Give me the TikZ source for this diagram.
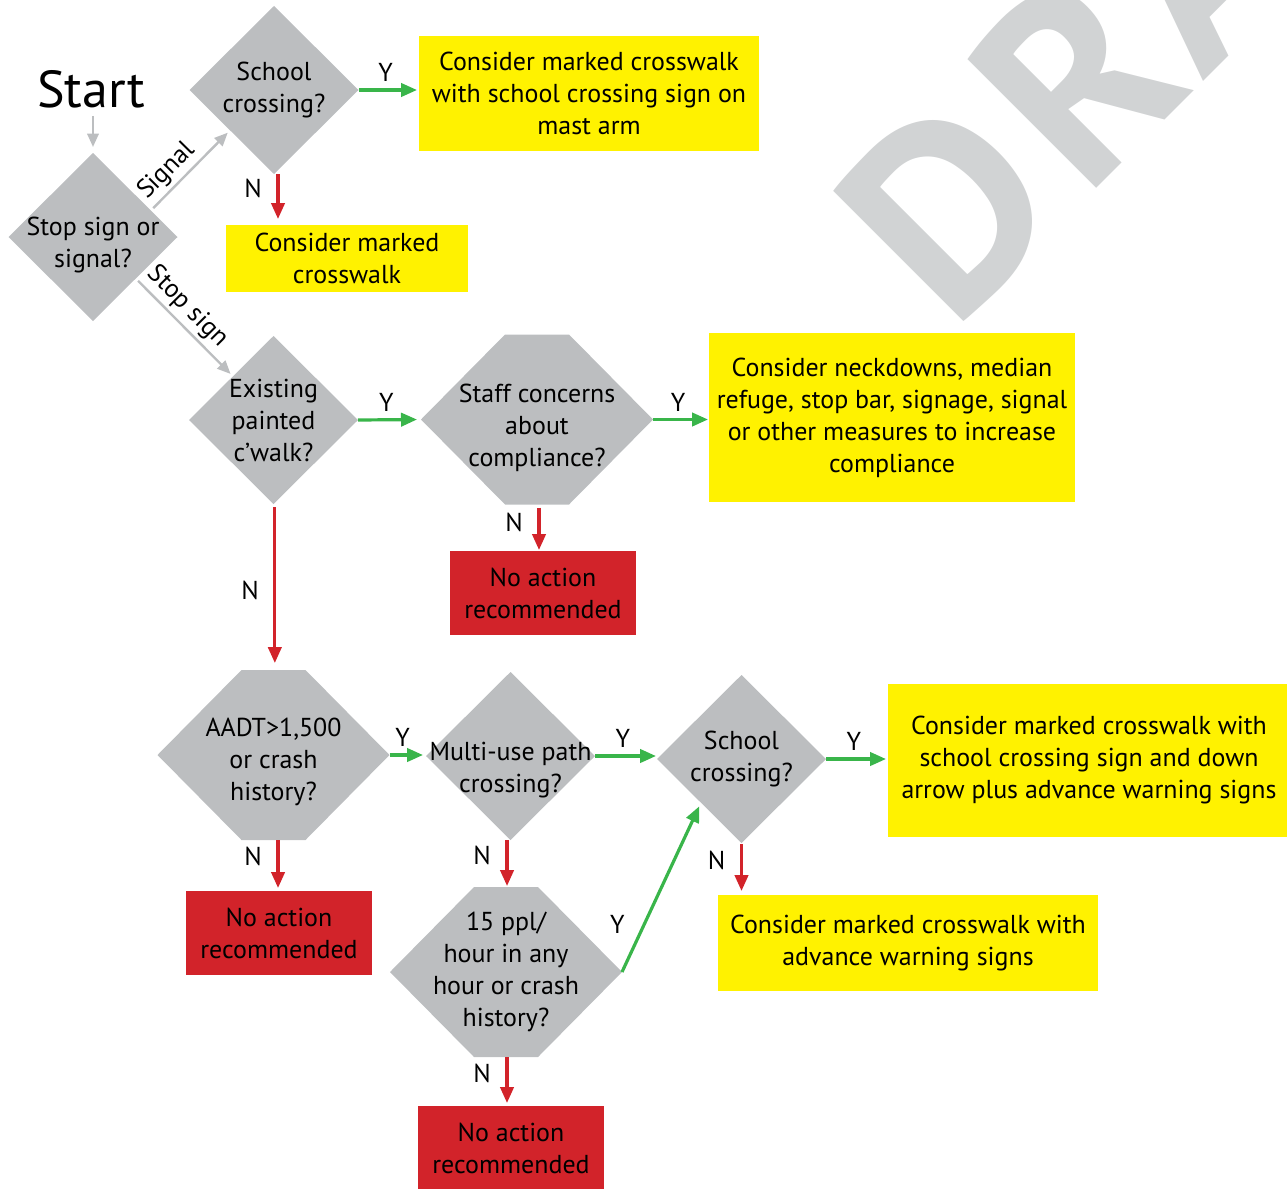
\documentclass[tikz,border=0pt]{standalone}
\usepackage{fontspec}
\setmainfont{PT Sans}
\usetikzlibrary{arrows.meta,calc,backgrounds}
\definecolor{shapegray}{HTML}{BCBEC0}
\definecolor{boxyellow}{HTML}{FFF200}
\definecolor{boxred}{HTML}{D2232A}
\definecolor{arrgreen}{HTML}{39B54A}
\definecolor{arrred}{HTML}{D2232A}
\definecolor{arrgray}{HTML}{BCBEC0}
\definecolor{wmgray}{HTML}{D1D3D4}
\newcommand{\fillhexa}[1]{\fill[shapegray] ([xshift=63pt]#1.north west) -- ([xshift=-63pt]#1.north east) -- (#1.east) -- ([xshift=-63pt]#1.south east) -- ([xshift=63pt]#1.south west) -- (#1.west) -- cycle;}
\newcommand{\filldia}[1]{\fill[shapegray] (#1.north) -- (#1.east) -- (#1.south) -- (#1.west) -- cycle;}
\begin{document}
\begin{tikzpicture}[x=0.75pt, y=-0.75pt,
  txt/.style={font=\fontsize{19.45}{24}\selectfont, align=center, text=black},
  dia/.style={txt, rectangle, inner sep=0pt, outer sep=0pt, minimum width=126.75pt, minimum height=126pt},
  hexa/.style={txt, rectangle, inner sep=0pt, outer sep=0pt, minimum width=174pt, minimum height=127.5pt},
  ybox/.style={txt, rectangle, fill=boxyellow, inner sep=0pt, outer sep=0pt},
  rbox/.style={txt, rectangle, fill=boxred, inner sep=0pt, outer sep=0pt, minimum width=139.5pt, minimum height=63pt},
  conn/.style={line width=2.4pt, -{Triangle[length=12pt,width=10pt]}},
  yesarr/.style={conn, draw=arrgreen},
  noarr/.style={conn, draw=arrred},
  gconn/.style={line width=1.8pt, draw=arrgray, -{Triangle[length=10pt,width=8.5pt]}},
  ylab/.style={txt, inner sep=0pt, above=4.9pt},
  nlab/.style={txt, inner sep=0pt, left=10.9pt},
]
\useasboundingbox (0,0) rectangle (1287,1188);

\node[txt, font=\fontsize{39}{44}\selectfont, inner sep=0pt, anchor=base] (start) at (91,108) {Start};
\node[dia] (stop) at (93,237) {};
\node[txt] (stoptext) at ([yshift=-6pt]stop.center) {Stop sign or\\signal?};
\node[dia] (sch1) at (274,90) {School\\crossing?};
\node[ybox, minimum width=255pt, minimum height=86.25pt] (b1) at (589,93.5) {Consider marked crosswalk\\with school crossing sign on\\mast arm};
\node[ybox, minimum width=181.5pt, minimum height=50.25pt] (b2) at (347,258.5) {Consider marked\\crosswalk};
\node[dia] (exist) at (273.5,420) {Existing\\painted\\c’walk?};
\node[hexa] (staff) at (537,419.5) {};
\node[txt] (stafftext) at ([yshift=-6pt]staff.center) {Staff concerns\\about\\compliance?};
\node[ybox, minimum width=274.5pt, minimum height=126.75pt] (b3) at (892,417.5) {Consider neckdowns, median\\refuge, stop bar, signage, signal\\or other measures to increase\\compliance};
\node[rbox] (r1) at (543,593) {No action\\recommended};
\node[hexa] (aadt) at (273.5,755) {};
\node[txt] (aadttext) at ([yshift=-5.25pt]aadt.center) {AADT>1,500\\or crash\\history?};
\node[dia] (multi) at (510.5,756) {};
\node[txt] (multitext) at ([yshift=-10.5pt]multi.center) {Multi-use path\\crossing?};
\node[dia] (sch2) at (741.5,759) {School\\crossing?};
\node[ybox, minimum width=301.5pt, minimum height=114.75pt] (b4) at (1089,760.5) {Consider marked crosswalk with\\school crossing sign and down\\arrow plus advance warning signs};
\node[rbox] (r2) at (279,933) {No action\\recommended};
\node[ybox, minimum width=285pt, minimum height=72pt] (b5) at (908,943) {Consider marked crosswalk with\\advance warning signs};
\node[hexa] (ppl) at (506,972) {15 ppl/\\hour in any\\hour or crash\\history?};
\node[rbox] (r3) at (511,1148) {No action\\recommended};

\begin{scope}[on background layer]
  \node[font=\fontsize{197}{200}\selectfont\bfseries\addfontfeature{LetterSpace=7}, text=wmgray, rotate=45, anchor=base west, inner sep=0pt] (wm) at (952,333) {DRAFT};
  \filldia{stop}
  \filldia{sch1}
  \filldia{exist}
  \filldia{multi}
  \filldia{sch2}
  \fillhexa{staff}
  \fillhexa{aadt}
  \fillhexa{ppl}
\end{scope}

\draw[gconn, shorten <=5.25pt, shorten >=4.5pt] (start.south -| stop.north) -- (stop.north);
\draw[gconn, shorten <=2.5pt, shorten >=2.5pt] ($(stop.north)!0.685!(stop.east)$) -- node[txt, pos=0.35, sloped, above, inner sep=2.6pt]{Signal} ($(sch1.west)!0.48!(sch1.south)$);
\draw[gconn, shorten <=2.5pt, shorten >=2.5pt] ($(stop.east)!0.494!(stop.south)$) -- node[txt, pos=0.41, sloped, above, inner sep=2.6pt]{Stop sign} ($(exist.west)!0.52!(exist.north)$);

\draw[yesarr, shorten >=1.5pt] (sch1.east) -- node[ylab, pos=0.45]{Y} (b1.west |- sch1.east);
\draw[noarr, shorten >=4.5pt] ([xshift=3pt]sch1.south) -- node[nlab, pos=0.29]{N} ([xshift=3pt]sch1.south |- b2.north);
\draw[yesarr, shorten >=3pt] (exist.east) -- node[ylab, pos=0.45]{Y} (staff.west);
\draw[yesarr, shorten >=0.75pt] (staff.east) -- node[ylab, pos=0.45]{Y} (b3.west |- staff.east);
\draw[noarr, shorten <=2.25pt, shorten >=0.75pt] ([xshift=1.5pt]staff.south) -- node[nlab, pos=0.38]{N} ([xshift=1.5pt]staff.south |- r1.north);
\draw[noarr, shorten <=2.25pt, shorten >=5.25pt] ([xshift=1pt]exist.south) -- node[nlab, pos=0.52]{N} ([xshift=1pt]exist.south |- aadt.north);
\draw[yesarr, shorten >=2.25pt] (aadt.east) -- node[ylab, pos=0.36]{Y} (multi.west |- aadt.east);
\draw[yesarr, shorten >=0.75pt] (multi.east) -- node[ylab, pos=0.45]{Y} (sch2.west |- multi.east);
\draw[yesarr, shorten >=1.5pt] (sch2.east) -- node[ylab, pos=0.45]{Y} (b4.west |- sch2.east);
\draw[noarr, shorten <=0.75pt, shorten >=3pt] (sch2.south) -- node[nlab, pos=0.34]{N} (sch2.south |- b5.north);
\draw[noarr, shorten >=2.25pt] ([xshift=3.4pt]aadt.south) -- node[nlab, pos=0.33]{N} ([xshift=3.4pt]aadt.south |- r2.north);
\draw[noarr, shorten >=0.75pt] ([xshift=-2.6pt]multi.south) -- node[nlab, pos=0.33]{N} ([xshift=-2.6pt]multi.south |- ppl.north);
\draw[yesarr, shorten >=3pt] (ppl.east) -- node[txt, inner sep=0pt, pos=0.28, left=13.5pt]{Y} ($(sch2.west)!0.52!(sch2.south)$);
\draw[noarr, shorten >=2.25pt] ([xshift=0.75pt]ppl.south) -- node[nlab, pos=0.34]{N} ([xshift=0.75pt]ppl.south |- r3.north);
\end{tikzpicture}
\end{document}
